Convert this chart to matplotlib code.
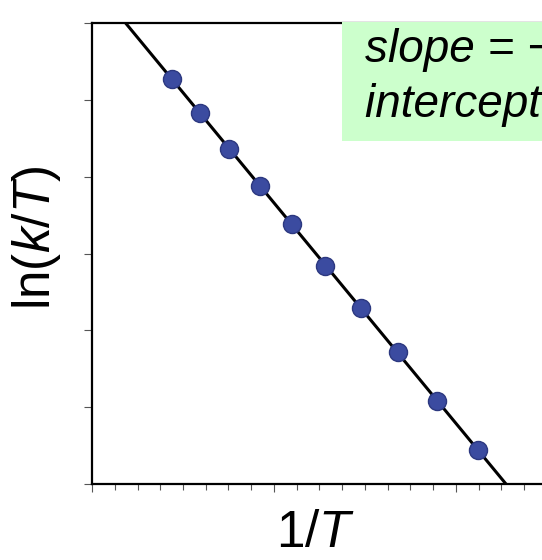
import numpy as np
import matplotlib.pyplot as plt
from matplotlib.patches import Rectangle

plt.rcParams['font.family'] = 'Liberation Sans'
plt.rcParams['mathtext.fontset'] = 'custom'
plt.rcParams['mathtext.rm'] = 'Liberation Sans'
plt.rcParams['mathtext.it'] = 'Liberation Sans:italic'

# data (arbitrary units, no tick labels shown)
inv_T = np.array([0.44, 0.593, 0.753, 0.923, 1.099, 1.280, 1.478, 1.681, 1.896, 2.121])
ln_k_T = np.array([5.27, 4.83, 4.36, 3.88, 3.38, 2.84, 2.29, 1.72, 1.08, 0.44])

slope_text = 'slope = \u2212\u0394H\u2021/R'
intercept_text = 'intercept = ln(kB/h) + \u0394S\u2021/R'

fig = plt.figure(figsize=(5.42, 5.60), dpi=100)
ax = fig.add_axes([92 / 542, 76 / 560, 546 / 542, 461 / 560])

# linear fit through the points
m, b = np.polyfit(inv_T, ln_k_T, 1)
xs = np.array([0, 3])
ax.plot(xs, m * xs + b, color='black', lw=2.2, zorder=2)
ax.plot(inv_T, ln_k_T, 'o', ms=13, mfc='#3B4BA0', mec='#2C3880', mew=1, zorder=3)

ax.set_xlim(0, 3)
ax.set_ylim(0, 6)
ax.set_xticks(np.arange(0, 3.01, 1))
ax.set_xticks(np.arange(0, 3.01, 0.125), minor=True)
ax.set_yticks(np.arange(0, 6.01, 1))
ax.tick_params(which='major', direction='out', length=6, width=0.8, color='#555555',
               labelbottom=False, labelleft=False)
ax.tick_params(which='minor', direction='out', length=4, width=0.8, color='#555555')
for s in ['left', 'bottom', 'top']:
    ax.spines[s].set_linewidth(1.6)
ax.spines['right'].set_visible(False)

ax.set_ylabel('ln($k$/$T$)', fontsize=37, va='center', ha='center')
ax.yaxis.set_label_coords(-0.101, 0.534)
ax.set_xlabel('1/$T$', fontsize=37, va='center', ha='center')
ax.xaxis.set_label_coords(0.41, -0.108)

# green annotation box (runs off the right edge, as in the original)
fig.patches.append(Rectangle((342 / 542, 1 - 141 / 560), 0.6, 119 / 560,
                             transform=fig.transFigure, facecolor='#CCFFCC',
                             edgecolor='none', zorder=5))
fig.text(365 / 542, 1 - 62 / 560, slope_text, fontsize=33, style='italic',
         va='baseline', ha='left', zorder=6)
fig.text(365 / 542, 1 - 117 / 560, intercept_text, fontsize=33, style='italic',
         va='baseline', ha='left', zorder=6)

fig.savefig('out.png', dpi=100)
